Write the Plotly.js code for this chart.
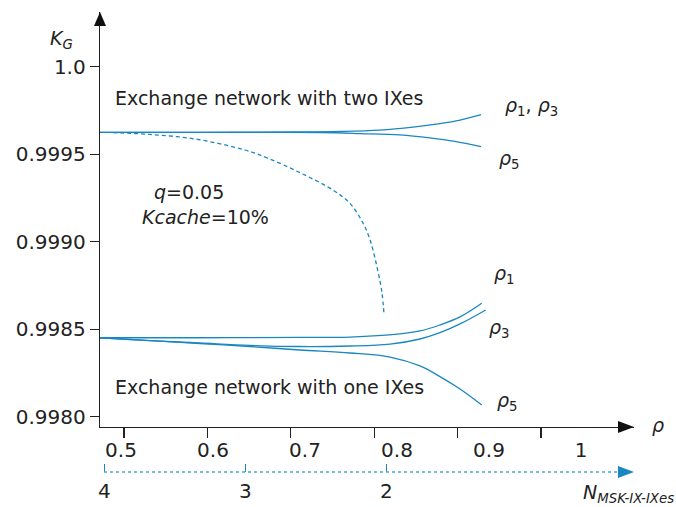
<!DOCTYPE html>
<html>
<head>
<meta charset="utf-8">
<script src="https://cdn.plot.ly/plotly-3.0.1.min.js"></script>
<style>html,body{margin:0;padding:0;background:#fff}#chart{width:676px;height:507px}</style>
</head>
<body>
<div id="chart"></div>
<script>
// ---- data ----
// Two IXes
const twoRho13 = [0.4772, 0.5859, 0.6946, 0.7380, 0.7815, 0.8174, 0.8467, 0.8685, 0.8913];
const twoKG13  = [0.999625, 0.999625, 0.999627, 0.999630, 0.999638, 0.999655, 0.999675, 0.999695, 0.999726];
const twoRho5  = [0.4772, 0.6402, 0.7163, 0.7598, 0.8033, 0.8359, 0.8630, 0.8913];
const twoKG5   = [0.999625, 0.999625, 0.999624, 0.999618, 0.999610, 0.999593, 0.999573, 0.999543];
// dashed curve
const dashRho = [0.4913, 0.5315, 0.5804, 0.6348, 0.6598, 0.6946, 0.7304, 0.7489, 0.7630, 0.7707, 0.7783, 0.7837, 0.7859];
const dashKG  = [0.999623, 0.999613, 0.999587, 0.999524, 0.999477, 0.999394, 0.999295, 0.999219, 0.999107, 0.999010, 0.998855, 0.998707, 0.998581];
// One IXes
const oneRho1 = [0.4772, 0.5859, 0.6946, 0.7489, 0.8033, 0.8250, 0.8467, 0.8685, 0.8921];
const oneKG1  = [0.998451, 0.998451, 0.998453, 0.998455, 0.998473, 0.998490, 0.998524, 0.998570, 0.998648];
const oneRho3 = [0.4772, 0.5315, 0.5859, 0.6402, 0.6946, 0.7489, 0.7924, 0.8250, 0.8467, 0.8685, 0.8964];
const oneKG3  = [0.998451, 0.998435, 0.998421, 0.998407, 0.998401, 0.998404, 0.998415, 0.998444, 0.998480, 0.998530, 0.998610];
const oneRho5 = [0.4772, 0.5315, 0.5859, 0.6402, 0.6946, 0.7489, 0.7924, 0.8250, 0.8467, 0.8685, 0.8921];
const oneKG5  = [0.998451, 0.998435, 0.998418, 0.998401, 0.998381, 0.998364, 0.998341, 0.998290, 0.998229, 0.998158, 0.998067];

// ticks
const yTickVals = [1.0, 0.9995, 0.9990, 0.9985, 0.9980];
const yTickText = ['1.0', '0.9995', '0.9990', '0.9985', '0.9980'];
const rhoTickVals = [0.5, 0.6, 0.7, 0.8, 0.9, 1.0];
const rhoTickText = ['0.5', '0.6', '0.7', '0.8', '0.9', '1'];
const nTickVals = [4, 3, 2];
const nTickText = ['4', '3', '2'];

// ---- styling ----
const BLUE = '#1a87c2';
const TXT = '#222222';
const FONT = 'DejaVu Sans';

function line(x, y, dash) {
  return {x: x, y: y, type: 'scatter', mode: 'lines', xaxis: 'x', yaxis: 'y',
    line: {color: BLUE, width: 1.3, shape: 'spline', smoothing: 1, dash: dash || 'solid'},
    hoverinfo: 'skip', showlegend: false};
}

const traces = [
  line(twoRho13, twoKG13),
  line(twoRho5, twoKG5),
  line(dashRho, dashKG, '4px,3px'),
  line(oneRho1, oneKG1),
  line(oneRho3, oneKG3),
  line(oneRho5, oneKG5),
  // invisible traces that switch on the extra axes
  {x: [0.5], y: [0.999], xaxis: 'x2', yaxis: 'y', mode: 'markers', marker: {opacity: 0}, hoverinfo: 'skip', showlegend: false},
  {x: [3], y: [0.999], xaxis: 'x3', yaxis: 'y', mode: 'markers', marker: {opacity: 0}, hoverinfo: 'skip', showlegend: false}
];

const yDomBottom = 45 / 460;

const tickFont = {family: FONT, size: 20, color: TXT};
const annFont = {family: FONT, size: 19, color: TXT};

function ann(x, y, text, opts) {
  return Object.assign({x: x, y: y, xref: 'x', yref: 'y', text: text, showarrow: false,
    xanchor: 'left', yanchor: 'middle', font: annFont}, opts || {});
}

const layout = {
  width: 676, height: 507,
  margin: {l: 100, r: 42, t: 12, b: 35},
  paper_bgcolor: '#fff', plot_bgcolor: '#fff',
  showlegend: false,
  xaxis: {
    domain: [0, 1], anchor: 'y', range: [0.477174, 1.057609],
    tickvals: rhoTickVals, ticktext: rhoTickText,
    ticks: 'outside', ticklen: 5, tickcolor: 'rgba(0,0,0,0)',
    showline: true, linecolor: TXT, linewidth: 1.3,
    showgrid: false, zeroline: false, tickfont: tickFont
  },
  xaxis2: {
    overlaying: 'x', anchor: 'y', side: 'bottom', range: [0.471223, 1.111511],
    tickvals: rhoTickVals, ticks: 'outside', ticklen: 10, tickwidth: 1.3, tickcolor: TXT,
    showticklabels: false, showline: false, showgrid: false, zeroline: false
  },
  xaxis3: {
    overlaying: 'x', anchor: 'free', position: 0, side: 'bottom', range: [4.0305, 0.2433],
    tickvals: nTickVals, ticktext: nTickText,
    ticks: 'inside', ticklen: 8, tickwidth: 1.5, tickcolor: BLUE,
    ticklabelstandoff: 5,
    showline: false, showgrid: false, zeroline: false, tickfont: tickFont
  },
  yaxis: {
    domain: [yDomBottom, 1], anchor: 'x', range: [0.9979411, 1.0003126],
    tickvals: yTickVals, ticktext: yTickText,
    ticks: 'outside', ticklen: 9, tickwidth: 1.3, tickcolor: TXT,
    showline: true, linecolor: TXT, linewidth: 1.3,
    showgrid: false, zeroline: false, tickfont: tickFont
  },
  shapes: [
    {type: 'path', xref: 'x domain', yref: 'y domain', xsizemode: 'pixel', ysizemode: 'pixel',
     xanchor: 1, yanchor: 0, path: 'M0,0 L-16,6 L-16,-6 Z', fillcolor: '#111', line: {width: 0}},
    {type: 'path', xref: 'x domain', yref: 'y domain', xsizemode: 'pixel', ysizemode: 'pixel',
     xanchor: 0, yanchor: 1, path: 'M0,0 L-6,-14 L6,-14 Z', fillcolor: '#111', line: {width: 0}},
    {type: 'line', xref: 'paper', yref: 'paper', x0: 4 / 534, x1: 1 - 14 / 534, y0: 0, y1: 0,
     line: {color: '#4aa8d8', width: 1.5, dash: 'dot'}},
    {type: 'path', xref: 'paper', yref: 'paper', xsizemode: 'pixel', ysizemode: 'pixel',
     xanchor: 1, yanchor: 0, path: 'M0,0 L-16,6 L-16,-6 Z', fillcolor: BLUE, line: {width: 0}}
  ],
  annotations: [
    ann(0.4913, 0.999821, 'Exchange network with two IXes'),
    ann(0.4913, 0.998170, 'Exchange network with one IXes'),
    ann(0.5337, 0.999286, '<i>q</i>=0.05'),
    ann(0.5207, 0.999143, '<i>Kcache</i>=10%'),
    ann(0.9152, 0.999775, '<i>ρ</i><sub>1</sub>, <i>ρ</i><sub>3</sub>'),
    ann(0.9083, 0.999467, '<i>ρ</i><sub>5</sub>'),
    ann(0.9029, 0.998810, '<i>ρ</i><sub>1</sub>'),
    ann(0.8975, 0.998505, '<i>ρ</i><sub>3</sub>'),
    ann(0.9065, 0.998086, '<i>ρ</i><sub>5</sub>'),
    {xref: 'paper', yref: 'paper', x: -39 / 534, y: 1 - 28 / 460, text: '<i>K<sub>G</sub></i>',
     showarrow: false, xanchor: 'center', yanchor: 'middle', font: annFont},
    {xref: 'paper', yref: 'paper', x: 1 + 24 / 534, y: yDomBottom + 2 / 460, text: '<i>ρ</i>',
     showarrow: false, xanchor: 'center', yanchor: 'middle', font: annFont},
    {xref: 'paper', yref: 'paper', x: 1 + 42 / 534, y: -21 / 460, text: '<i>N<sub>MSK-IX-IXes</sub></i>',
     showarrow: false, xanchor: 'right', yanchor: 'middle', font: {family: FONT, size: 19, color: TXT}}
  ]
};

Plotly.newPlot('chart', traces, layout, {staticPlot: true, displayModeBar: false});
</script>
</body>
</html>
